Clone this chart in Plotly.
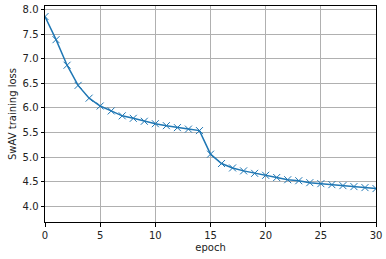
import plotly.graph_objects as go

epochs = list(range(31))
loss = [7.86, 7.39, 6.87, 6.46, 6.20, 6.04, 5.94, 5.84, 5.79, 5.73, 5.68,
        5.64, 5.60, 5.57, 5.54, 5.06, 4.87, 4.78, 4.72, 4.67, 4.63,
        4.585, 4.54, 4.52, 4.48, 4.46, 4.44, 4.42, 4.40, 4.38, 4.36]
x_ticks = [0, 5, 10, 15, 20, 25, 30]
y_ticks = [4.0, 4.5, 5.0, 5.5, 6.0, 6.5, 7.0, 7.5, 8.0]

fig = go.Figure()
fig.add_trace(go.Scatter(
    x=epochs, y=loss, mode="lines+markers",
    line=dict(color="#1f77b4", width=1.5),
    marker=dict(symbol="x-thin", size=7, line=dict(color="#1f77b4", width=1)),
    showlegend=False,
))

axis_common = dict(
    showgrid=True, gridcolor="#b0b0b0", gridwidth=1,
    showline=True, linecolor="black", linewidth=1, mirror=True,
    ticks="outside", ticklen=3.5, tickwidth=0.8, tickcolor="black",
    tickfont=dict(family="DejaVu Sans", size=10, color="#222"),
    zeroline=False, ticklabeloverflow="allow", layer="below traces",
)
fig.update_xaxes(range=[0, 30], tickvals=x_ticks, ticktext=[str(v) for v in x_ticks],
                 title=dict(text="epoch", font=dict(family="DejaVu Sans", size=10, color="#222"), standoff=4),
                 **axis_common)
fig.update_yaxes(range=[3.68, 8.075], tickvals=y_ticks, ticktext=[f"{v:.1f}" for v in y_ticks],
                 title=dict(text="SwAV training loss", font=dict(family="DejaVu Sans", size=10, color="#222"), standoff=4),
                 **axis_common)

fig.update_layout(
    width=386, height=259,
    margin=dict(l=45, r=6, t=4, b=37),
    plot_bgcolor="white", paper_bgcolor="white",
)
fig.write_html("out.html")
